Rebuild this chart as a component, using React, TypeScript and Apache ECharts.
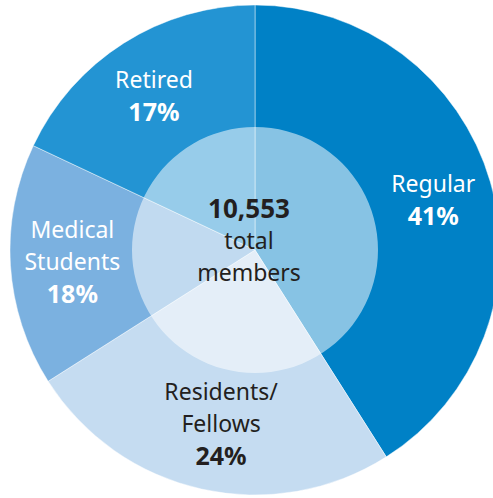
import React, { useEffect, useRef } from "react";
import * as echarts from "echarts";

const categories = ["Regular", "Residents/\nFellows", "Medical\nStudents", "Retired"];
// percentages printed on the chart
const percents = [41, 24, 18, 17];
// arc shares as actually drawn in the picture
const arcShares = [41, 25, 16, 18];
const sliceColors = ["#0081c6", "#c5dcf1", "#7bb1e0", "#2394d3"];
const labelColors = ["#ffffff", "#231f20", "#ffffff", "#ffffff"];
const totalMembers = 10553;
const totalCaption = "total\nmembers";

const FONT = "'Noto Sans', 'Open Sans', sans-serif";
// small per-label nudges (padding: top, right, bottom, left)
const labelPads = [
  [0, 0, 0, 5],
  [0, 0, 12, 12],
  [0, 0, 0, 0],
  [0, 6, 0, 0],
];

export default function App() {
  const ref = useRef<HTMLDivElement>(null);

  useEffect(() => {
    if (!ref.current) return;
    const chart = echarts.init(ref.current, undefined, { renderer: "svg" });

    const pieData = categories.map((name, i) => ({
      name,
      value: arcShares[i],
      itemStyle: { color: sliceColors[i] },
    }));

    const labelData = categories.map((name, i) => ({
      name,
      value: arcShares[i],
      itemStyle: { color: "rgba(0,0,0,0)" },
      label: {
        color: labelColors[i],
        padding: labelPads[i],
        formatter: `{n|${name}}\n{p|${percents[i]}%}`,
        rich: {
          n: { color: labelColors[i], fontSize: 23, lineHeight: 32, fontFamily: FONT },
          p: { color: labelColors[i], fontSize: 25, lineHeight: 32, fontWeight: "bold", fontFamily: FONT },
        },
      },
    }));

    chart.setOption({
      animation: false,
      backgroundColor: "#ffffff",
      series: [
        {
          type: "pie",
          center: [255, 250],
          radius: [0, 245],
          startAngle: 90,
          clockwise: true,
          silent: true,
          label: { show: false },
          labelLine: { show: false },
          itemStyle: { borderColor: "rgba(255,255,255,0.45)", borderWidth: 1 },
          data: pieData,
          z: 1,
        },
        {
          type: "pie",
          center: [255, 250],
          radius: [0, 123],
          silent: true,
          labelLine: { show: false },
          itemStyle: { color: "rgba(255,255,255,0.53)", borderWidth: 0 },
          label: {
            show: true,
            position: "center",
            padding: [0, 12, 20, 0],
            formatter: () =>
              `{t|${totalMembers.toLocaleString("en-US")}}\n{c|${totalCaption}}`,
            rich: {
              t: { color: "#231f20", fontSize: 26, fontWeight: "bold", lineHeight: 32, fontFamily: FONT },
              c: { color: "#231f20", fontSize: 23, lineHeight: 32, fontFamily: FONT },
            },
          },
          data: [{ name: "total", value: 1 }],
          z: 2,
        },
        {
          type: "pie",
          center: [255, 250],
          radius: [115, 245],
          startAngle: 90,
          clockwise: true,
          silent: true,
          labelLine: { show: false },
          label: {
            show: true,
            position: "inside",
          },
          data: labelData,
          z: 3,
        },
      ],
    });

    return () => chart.dispose();
  }, []);

  return (
    <div
      ref={ref}
      style={{ position: "fixed", left: 0, top: 0, width: 493, height: 498 }}
    />
  );
}
